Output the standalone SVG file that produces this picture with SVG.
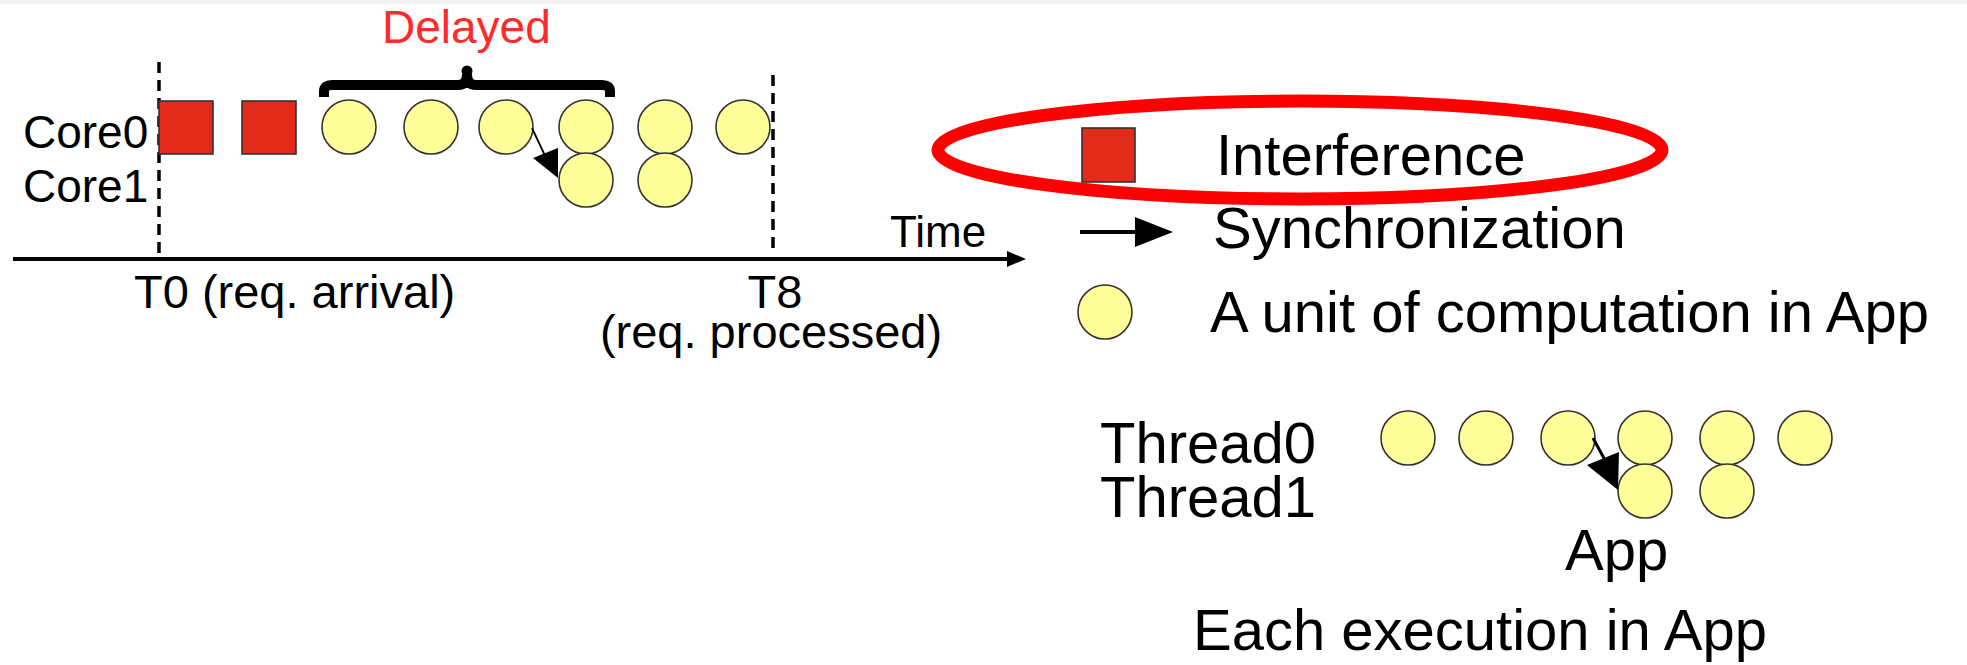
<svg xmlns="http://www.w3.org/2000/svg" width="1967" height="665" viewBox="0 0 1967 665">
<style>
text{font-family:"Liberation Sans",Arial,sans-serif;fill:#000}
.lbl{font-size:46px}
.big{font-size:58px}
.u{fill:#FFFF99;stroke:#333;stroke-width:1.6}
.itf{fill:#E42A1B;stroke:#333;stroke-width:1.6}
.dash{stroke:#000;stroke-width:3.5;stroke-dasharray:11 7;fill:none}
</style>
<defs>
<marker id="ah" viewBox="0 0 10 10" refX="10" refY="5" markerWidth="10" markerHeight="10" markerUnits="userSpaceOnUse" orient="auto">
<path d="M0,0 L10,5 L0,10 Z" fill="#000"/>
</marker>
</defs>
<rect width="1967" height="665" fill="#fff"/>
<rect x="0" y="0" width="1967" height="4" fill="#f2f2f2"/>

<g id="delayed">
<text x="382" y="43" style="font-size:46px;fill:#FF2B2B">Delayed</text>
<path d="M324,97 V91 Q324,85 332,85 H458 Q467,85 467,74 Q467,85 476,85 H602 Q610,85 610,91 V97" fill="none" stroke="#000" stroke-width="10"/>
<circle cx="467" cy="71" r="5.5" fill="#000"/>
</g>

<g id="labels">
<text class="lbl" x="23" y="148">Core0</text>
<text class="lbl" x="23" y="202">Core1</text>
<text x="890" y="247" style="font-size:44px">Time</text>
<text x="134" y="308" style="font-size:47px">T0 (req. arrival)</text>
<text x="775" y="308" style="font-size:47px" text-anchor="middle">T8</text>
<text x="771" y="348" style="font-size:47px" text-anchor="middle">(req. processed)</text>
</g>

<g id="axis">
<line class="dash" x1="159" y1="62" x2="159" y2="258"/>
<line class="dash" x1="773" y1="75" x2="773" y2="254"/>
<line x1="13" y1="259" x2="1010" y2="259" stroke="#000" stroke-width="4"/>
<polygon points="1007,251 1026,259 1007,267" fill="#000"/>
</g>

<g id="core-timeline">
<rect class="itf" x="159" y="101" width="54" height="53"/>
<rect class="itf" x="242" y="101" width="54" height="53"/>
<circle class="u" cx="349" cy="127" r="27"/>
<circle class="u" cx="431" cy="127" r="27"/>
<circle class="u" cx="506" cy="127" r="27"/>
<circle class="u" cx="586" cy="127" r="27"/>
<circle class="u" cx="665" cy="127" r="27"/>
<circle class="u" cx="743" cy="127" r="27"/>
<circle class="u" cx="586" cy="180" r="27"/>
<circle class="u" cx="665" cy="180" r="27"/>
</g>

<g id="legend">
<ellipse cx="1300" cy="150" rx="362" ry="49" fill="none" stroke="#FF0000" stroke-width="13"/>
<rect class="itf" x="1082" y="128" width="53" height="54"/>
<text class="big" x="1216" y="175">Interference</text>
<line x1="1080" y1="232" x2="1140" y2="232" stroke="#000" stroke-width="4"/>
<polygon points="1135,217 1173,232 1135,247" fill="#000"/>
<text class="big" x="1213" y="248">Synchronization</text>
<circle class="u" cx="1105" cy="312" r="27"/>
<text class="big" x="1210" y="332">A unit of computation in App</text>
</g>

<g id="app-threads">
<text class="big" x="1100" y="463">Thread0</text>
<text class="big" x="1100" y="517">Thread1</text>
<circle class="u" cx="1408" cy="438" r="27"/>
<circle class="u" cx="1486" cy="438" r="27"/>
<circle class="u" cx="1568" cy="438" r="27"/>
<circle class="u" cx="1645" cy="438" r="27"/>
<circle class="u" cx="1727" cy="438" r="27"/>
<circle class="u" cx="1805" cy="438" r="27"/>
<circle class="u" cx="1645" cy="491" r="27"/>
<circle class="u" cx="1727" cy="491" r="27"/>
<text class="big" x="1565" y="570">App</text>
<text class="big" x="1193" y="650">Each execution in App</text>
</g>

<g id="connectors">
<line x1="532" y1="128" x2="547" y2="160" stroke="#000" stroke-width="1.8"/>
<polygon points="533,158 558,148 558,178" fill="#000"/>
<line x1="1593" y1="438" x2="1606" y2="462" stroke="#000" stroke-width="3"/>
<polygon points="1587,465 1619,452 1618,490" fill="#000"/>
</g>
</svg>
